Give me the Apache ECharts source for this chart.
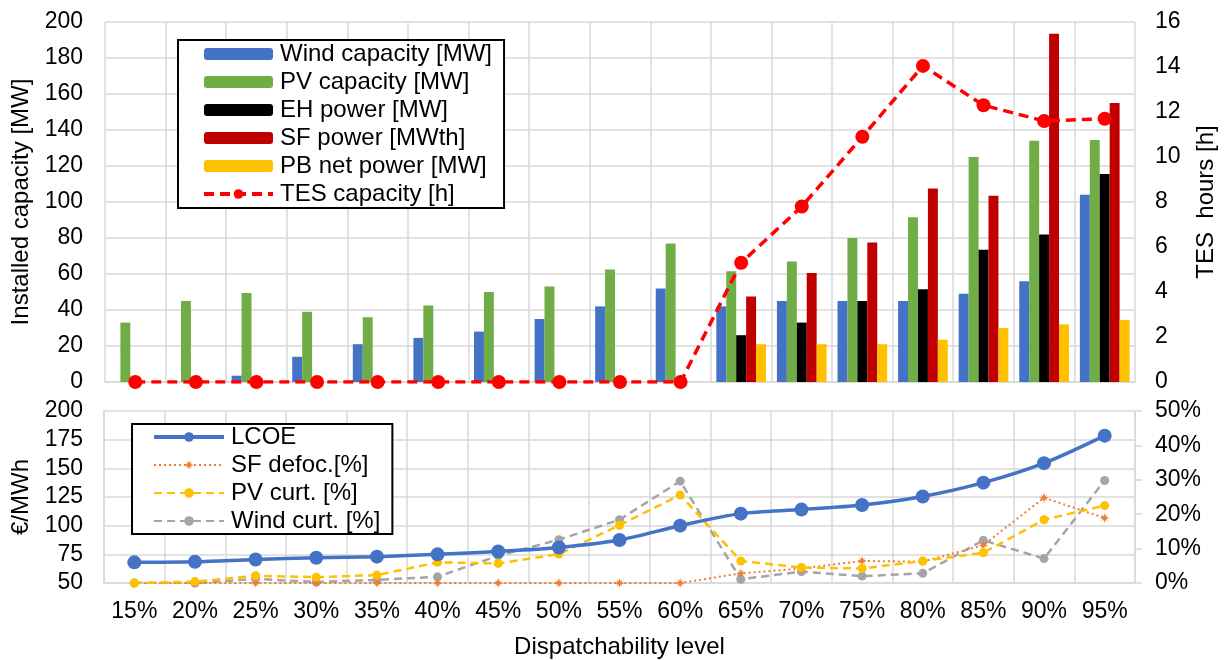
<!DOCTYPE html>
<html><head><meta charset="utf-8">
<script src="https://cdn.jsdelivr.net/npm/echarts@6/dist/echarts.min.js"></script>
<style>html,body{margin:0;padding:0;background:#fff}#c{width:1226px;height:660px}</style>
</head><body><div id="c"></div>
<script>
var categories = ['15%','20%','25%','30%','35%','40%','45%','50%','55%','60%','65%','70%','75%','80%','85%','90%','95%'];
var windCap = [0,0,3.5,14,21,24.5,28,35,42,52,42,45,45,45,49,56,104];
var pvCap = [33,45,49.5,39,36,42.5,50,53,62.5,77,61.5,67,80,91.5,125,134,134.5];
var ehPower = [null,null,null,null,null,null,null,null,null,null,26,33,45,51.5,73.5,82,115.5];
var sfPower = [null,null,null,null,null,null,null,null,null,null,47.5,60.5,77.5,107.5,103.5,193.5,155];
var pbPower = [null,null,null,null,null,null,null,null,null,null,21,21,21,23.5,30,32,34.5];
var tesHours = [0,0,0,0,0,0,0,0,0,0,5.3,7.8,10.9,14.05,12.3,11.6,11.7];
var lcoe = [68,68.5,70.5,72,73,75,77.5,81,87.5,100,110.5,114,118,125.5,137.5,154.5,178.5];
var sfDefoc = [0,0,0,0,0,0,0,0,0,0,2.8,4.2,6.4,6.2,11,24.8,18.9];
var pvCurt = [0,0.4,2.1,1.7,2.3,6,5.7,8.4,16.8,25.6,6.4,4.5,4.2,6.4,8.8,18.4,22.5];
var windCurt = [0,0,1.2,0.3,0.9,1.8,7.9,12.6,18.4,29.6,1.1,3.3,2,2.8,12.4,7.1,29.8];

var FONT = '"Liberation Sans", Arial, sans-serif';
var GRID = '#d9d9d9';
var tick = {color:'#000', fontSize:23, fontFamily:FONT};
var nameTxt = {color:'#000', fontSize:24, fontFamily:FONT};
var chart = echarts.init(document.getElementById('c'), null, {renderer:'canvas'});
var starPath = 'path://M5,0 L6,3.3 L8.5,1.5 L6.7,4 L10,5 L6.7,6 L8.5,8.5 L6,6.7 L5,10 L4,6.7 L1.5,8.5 L3.3,6 L0,5 L3.3,4 L1.5,1.5 L4,3.3 Z';

function barSeries(name, data, color){
  return {name:name, type:'bar', xAxisIndex:0, yAxisIndex:0, data:data, barGap:'0%', barCategoryGap:'18%',
    itemStyle:{color:color}, silent:true};
}
chart.setOption({
  animation:false,
  textStyle:{fontFamily:FONT},
  grid:[
    {left:105, right:91, top:22, height:360},
    {left:104, right:91, top:411, height:172}
  ],
  legend:[
    {show:true, left:178, top:40, orient:'vertical', itemWidth:69, itemHeight:12, itemGap:4,
     padding:[2,12,2,24], borderColor:'#000', borderWidth:2, backgroundColor:'#fff',
     textStyle:{color:'#000', fontSize:24, lineHeight:24, fontFamily:FONT, padding:[0,0,0,2]},
     data:['Wind capacity [MW]','PV capacity [MW]','EH power [MW]','SF power [MWth]','PB net power [MW]',
           {name:'TES capacity [h]', lineStyle:{width:4}}]},
    {show:true, left:132, top:424, orient:'vertical', itemWidth:70, itemHeight:12, itemGap:4,
     padding:[1,12,1,20], borderColor:'#000', borderWidth:2, backgroundColor:'#fff',
     textStyle:{color:'#000', fontSize:24, lineHeight:22, fontFamily:FONT, padding:[0,0,0,2]},
     data:[{name:'LCOE', lineStyle:{width:4}},'SF defoc.[%]','PV curt. [%]','Wind curt. [%]']}
  ],
  xAxis:[
    {type:'category', gridIndex:0, data:categories, boundaryGap:true,
     axisLabel:{show:false}, axisTick:{show:false},
     axisLine:{lineStyle:{color:GRID, width:1.5}},
     splitLine:{show:true, interval:0, lineStyle:{color:GRID, width:1.5}}},
    {type:'category', gridIndex:1, data:categories, boundaryGap:true,
     axisLabel:Object.assign({margin:17, interval:0}, tick), axisTick:{show:false},
     axisLine:{lineStyle:{color:GRID, width:1.5}},
     splitLine:{show:true, interval:0, lineStyle:{color:GRID, width:1.5}},
     name:'Dispatchability level', nameLocation:'middle', nameGap:52, nameTextStyle:nameTxt}
  ],
  yAxis:[
    {type:'value', gridIndex:0, min:0, max:200, interval:20,
     axisLabel:Object.assign({margin:22}, tick),
     axisLine:{show:false}, axisTick:{show:false},
     splitLine:{lineStyle:{color:GRID, width:1.5}},
     name:'Installed capacity [MW]', nameLocation:'middle', nameRotate:90, nameGap:71, nameTextStyle:nameTxt},
    {type:'value', gridIndex:0, min:0, max:16, interval:2, position:'right',
     axisLabel:Object.assign({margin:20}, tick),
     axisLine:{show:false}, axisTick:{show:false}, splitLine:{show:false},
     name:'TES  hours [h]', nameLocation:'middle', nameRotate:90, nameGap:59, nameTextStyle:nameTxt},
    {type:'value', gridIndex:1, min:50, max:200, interval:25,
     axisLabel:Object.assign({margin:21}, tick),
     axisLine:{show:true, lineStyle:{color:GRID, width:1.5}}, axisTick:{show:false},
     splitLine:{lineStyle:{color:GRID, width:1.5}},
     name:'€/MWh', nameLocation:'middle', nameRotate:90, nameGap:71, nameTextStyle:nameTxt},
    {type:'value', gridIndex:1, min:0, max:50, interval:10, position:'right',
     axisLabel:Object.assign({margin:20, formatter:'{value}%'}, tick),
     axisLine:{show:true, lineStyle:{color:GRID, width:1.5}},
     axisTick:{show:true, length:7, lineStyle:{color:GRID, width:1.5}}, splitLine:{show:false}}
  ],
  series:[
    barSeries('Wind capacity [MW]', windCap, '#4472c4'),
    barSeries('PV capacity [MW]', pvCap, '#70ad47'),
    barSeries('EH power [MW]', ehPower, '#000000'),
    barSeries('SF power [MWth]', sfPower, '#c00000'),
    barSeries('PB net power [MW]', pbPower, '#ffc000'),
    {name:'TES capacity [h]', type:'line', xAxisIndex:0, yAxisIndex:1, data:tesHours,
     symbol:'circle', symbolSize:14, itemStyle:{color:'#ff0000'},
     lineStyle:{color:'#ff0000', width:3.5, type:[10,6]}, z:5},
    {name:'LCOE', type:'line', xAxisIndex:1, yAxisIndex:2, data:lcoe, smooth:0.3,
     symbol:'circle', symbolSize:14, itemStyle:{color:'#4472c4'},
     lineStyle:{color:'#4472c4', width:3.5}, z:6},
    {name:'SF defoc.[%]', type:'line', xAxisIndex:1, yAxisIndex:3, data:sfDefoc,
     symbol:starPath, symbolSize:10, itemStyle:{color:'#ed7d31'},
     lineStyle:{color:'#ed7d31', width:2, type:[2,3]}, z:4},
    {name:'PV curt. [%]', type:'line', xAxisIndex:1, yAxisIndex:3, data:pvCurt,
     symbol:'circle', symbolSize:9, itemStyle:{color:'#ffc000'},
     lineStyle:{color:'#ffc000', width:2.5, type:[8,5]}, z:4},
    {name:'Wind curt. [%]', type:'line', xAxisIndex:1, yAxisIndex:3, data:windCurt,
     symbol:'circle', symbolSize:9, itemStyle:{color:'#a5a5a5'},
     lineStyle:{color:'#a5a5a5', width:2.5, type:[8,5]}, z:3}
  ]
});
</script></body></html>
